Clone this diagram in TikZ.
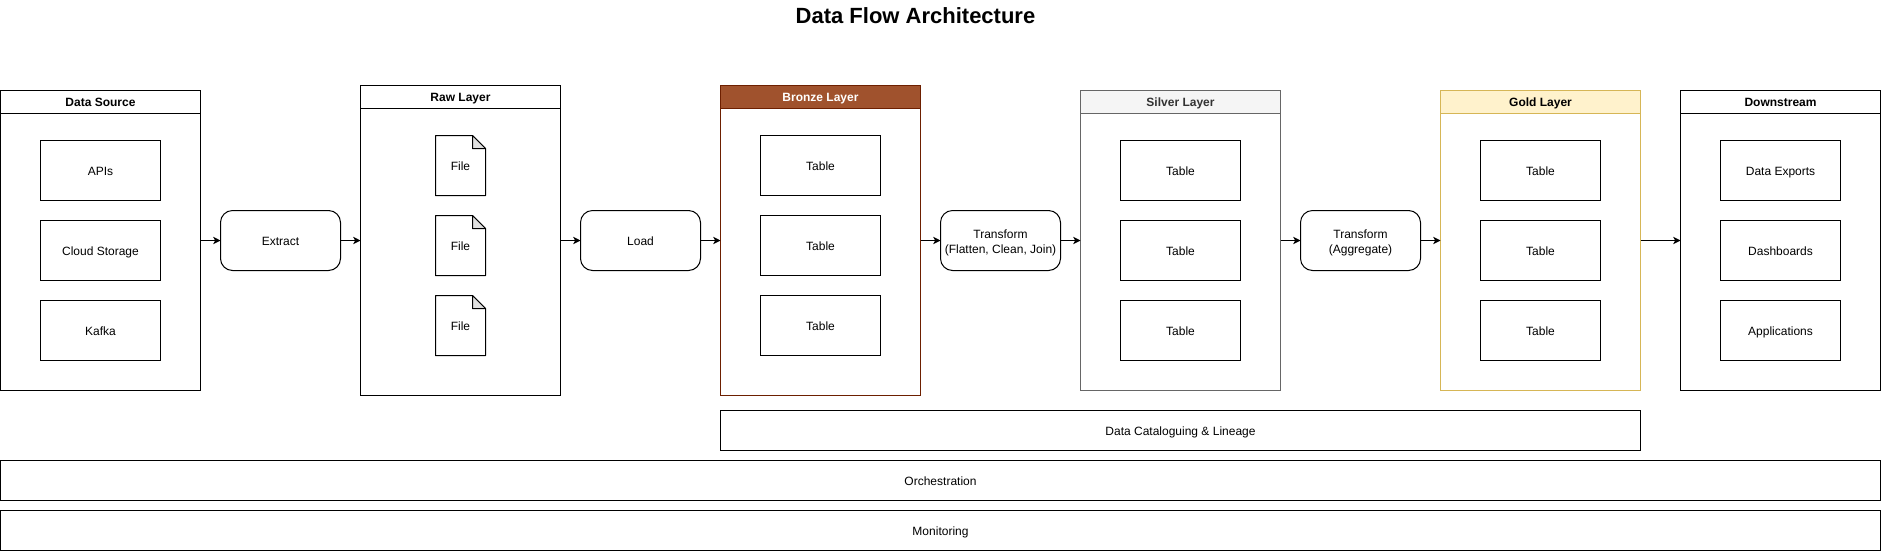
\documentclass[tikz,border=0pt]{standalone}
\usepackage{fontspec}
\setmainfont{Liberation Sans}
\usetikzlibrary{arrows.meta}

\definecolor{bronzefill}{HTML}{A0522D}
\definecolor{bronzeline}{HTML}{6D1F00}
\definecolor{silverfill}{HTML}{F5F5F5}
\definecolor{silverline}{HTML}{666666}
\definecolor{silvertext}{HTML}{333333}
\definecolor{goldfill}{HTML}{FFF2CC}
\definecolor{goldline}{HTML}{D6B656}

\newcommand{\filenode}[2]{%
	\node[filebox] (#1) at (#2) {File};
	\draw[line width=0.75pt, line join=round] (#1.north west) -- ([xshift=-9.75pt]#1.north east)
		-- ([yshift=-9.75pt]#1.north east) -- (#1.south east) -- (#1.south west) -- cycle;
	\draw[line width=0.75pt, line join=round, fill=black!12] ([xshift=-9.75pt]#1.north east)
		-- ([yshift=-9.75pt]#1.north east) -- ([xshift=-9.75pt,yshift=-9.75pt]#1.north east) -- cycle;
}

\begin{document}
\begin{tikzpicture}[
					x=0.75pt, y=-0.75pt,
					every node/.style={font=\fontsize{9pt}{11.25pt}\selectfont, align=center, inner sep=0pt, outer sep=0pt, text height=7.5pt, text depth=0pt},
					layer/.style={draw, line width=0.75pt, minimum width=150pt, minimum height=225pt},
					tall/.style={layer, minimum height=232.5pt},
					header/.style={draw, line width=0.75pt, anchor=north, minimum width=150pt, minimum height=17.25pt, text height=7pt, font=\fontsize{9pt}{11.25pt}\selectfont\bfseries},
					item/.style={draw, line width=0.75pt, minimum width=90pt, minimum height=45pt},
					filebox/.style={minimum width=37.5pt, minimum height=45pt},
					process/.style={draw, line width=0.75pt, rounded corners=9pt, minimum width=90pt, minimum height=45pt},
					twoline/.style={process, text height=19.5pt},
					band/.style={draw, line width=0.75pt, minimum height=30pt},
					flow/.style={line width=0.75pt, -{Stealth[length=5.5pt, width=5.5pt, inset=1.5pt]}}
				]
				\useasboundingbox (-0.5,-0.5) rectangle (1881.5,550.5);

				% --- Title ---
				\node[font=\fontsize{16.5pt}{20pt}\selectfont\bfseries, text height=12pt] (title) at (915,15) {Data Flow Architecture};

				% --- Data Source ---
				\node[layer] (source) at (100,240) {};
				\node[header] (sourcehead) at (source.north) {Data Source};
				\node[item] (apis) at (100,170) {APIs};
				\node[item] (cloud) at (100,250) {Cloud Storage};
				\node[item] (kafka) at (100,330) {Kafka};

				% --- Extract ---
				\node[process] (extract) at (280,240) {Extract};

				% --- Raw Layer ---
				\node[tall] (raw) at (460,240) {};
				\node[header] (rawhead) at (raw.north) {Raw Layer};
				\filenode{fileA}{460,165}
				\filenode{fileB}{460,245}
				\filenode{fileC}{460,325}

				% --- Load ---
				\node[process] (load) at (640,240) {Load};

				% --- Bronze Layer ---
				\node[tall, draw=bronzeline] (bronze) at (820,240) {};
				\node[header, draw=bronzeline, fill=bronzefill, text=white] (bronzehead) at (bronze.north) {Bronze Layer};
				\node[item] (bronzeA) at (820,165) {Table};
				\node[item] (bronzeB) at (820,245) {Table};
				\node[item] (bronzeC) at (820,325) {Table};

				% --- Transform 1 ---
				\node[twoline] (flatten) at (1000,240) {Transform\\(Flatten, Clean, Join)};

				% --- Silver Layer ---
				\node[layer, draw=silverline] (silver) at (1180,240) {};
				\node[header, draw=silverline, fill=silverfill, text=silvertext] (silverhead) at (silver.north) {Silver Layer};
				\node[item] (silverA) at (1180,170) {Table};
				\node[item] (silverB) at (1180,250) {Table};
				\node[item] (silverC) at (1180,330) {Table};

				% --- Transform 2 ---
				\node[twoline] (aggregate) at (1360,240) {Transform\\(Aggregate)};

				% --- Gold Layer ---
				\node[layer, draw=goldline] (gold) at (1540,240) {};
				\node[header, draw=goldline, fill=goldfill] (goldhead) at (gold.north) {Gold Layer};
				\node[item] (goldA) at (1540,170) {Table};
				\node[item] (goldB) at (1540,250) {Table};
				\node[item] (goldC) at (1540,330) {Table};

				% --- Downstream ---
				\node[layer] (down) at (1780,240) {};
				\node[header] (downhead) at (down.north) {Downstream};
				\node[item] (exports) at (1780,170) {Data Exports};
				\node[item] (dash) at (1780,250) {Dashboards};
				\node[item] (apps) at (1780,330) {Applications};

				% --- Bands ---
				\node[band, minimum width=690pt] (catalog) at (1180,430) {Data Cataloguing \& Lineage};
				\node[band, minimum width=1410pt] (orch) at (940,480) {Orchestration};
				\node[band, minimum width=1410pt] (monitor) at (940,530) {Monitoring};

				% --- Connectors ---
				\draw[flow] (source) -- (extract);
				\draw[flow] (extract) -- (raw);
				\draw[flow] (raw) -- (load);
				\draw[flow] (load) -- (bronze);
				\draw[flow] (bronze) -- (flatten);
				\draw[flow] (flatten) -- (silver);
				\draw[flow] (silver) -- (aggregate);
				\draw[flow] (aggregate) -- (gold);
				\draw[flow] (gold) -- (down);

			\end{tikzpicture}
\end{document}
